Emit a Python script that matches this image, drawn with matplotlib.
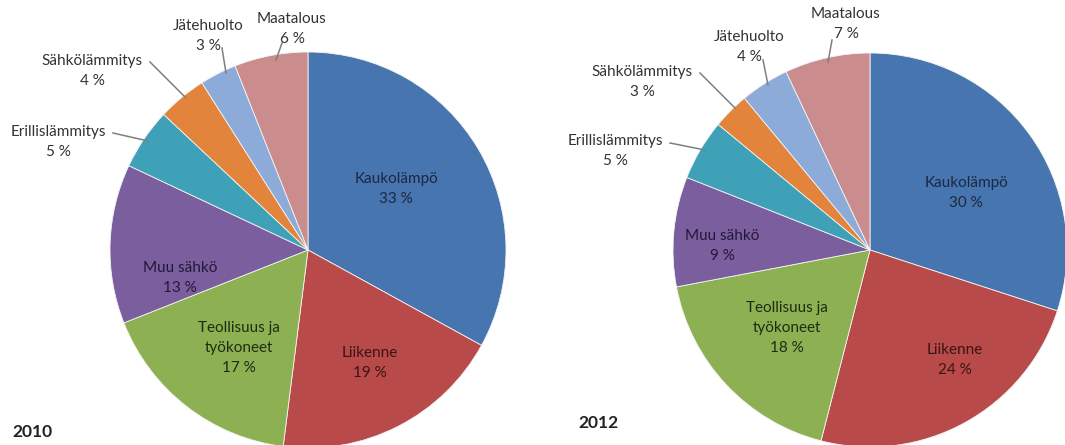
import matplotlib.pyplot as plt

# shares (%) per sector, 2010 and 2012
sectors = ["Kaukolämpö", "Liikenne", "Teollisuus ja\ntyökoneet", "Muu sähkö",
           "Erillislämmitys", "Sähkölämmitys", "Jätehuolto", "Maatalous"]
share_2010 = [33, 19, 17, 13, 5, 4, 3, 6]
share_2012 = [30, 24, 18, 9, 5, 3, 4, 7]
years = ["2010", "2012"]

colors = ["#4775B0", "#B84B49", "#8DB152", "#7A5E9E",
          "#3FA1B8", "#E3843D", "#8DABD9", "#CB8C8E"]
text_colors = ["#1c2740", "#3a1414", "#1f2c10", "#241838",
               "#333333", "#333333", "#333333", "#333333"]

W, H = 1065, 445
plt.rcParams['font.family'] = ['Lato', 'DejaVu Sans']

fig = plt.figure(figsize=(W / 100, H / 100), dpi=100)
ax = fig.add_axes([0, 0, 1, 1])

def Y(y):  # image row -> plot y
    return H - y

# layout: pie centre / radius, label anchor (image px), leader line for outer labels
pies = [
    dict(center=(308, 250), r=198, year_xy=(12, 432),
         labels=[(396, 189), (370, 363), (239, 348), (180, 278),
                 (58, 142), (92, 71), (208, 36), (292, 29)],
         leaders=[None, None, None, None,
                  ((113, 133), (148, 141)), ((150, 62), (186, 98)),
                  ((222, 48), (226, 73)), ((282, 43), (276, 60))]),
    dict(center=(870, 250), r=197, year_xy=(578, 423),
         labels=[(966, 193), (955, 360), (787, 328), (722, 246),
                 (615, 151), (642, 82), (749, 47), (846, 24)],
         leaders=[None, None, None, None,
                  ((670, 143), (705, 150)), ((700, 73), (735, 108)),
                  ((763, 60), (768, 85)), ((832, 40), (828, 62))]),
]

for vals, year, lay in zip([share_2010, share_2012], years, pies):
    cx, cy = lay['center']
    ax.pie(vals, colors=colors, startangle=90, counterclock=False,
           center=(cx, Y(cy)), radius=lay['r'], frame=True,
           wedgeprops=dict(edgecolor='#f4f4f4', linewidth=0.6))
    for i, (name, v) in enumerate(zip(sectors, vals)):
        lx, ly = lay['labels'][i]
        ax.text(lx, Y(ly), f"{name}\n{v} %", ha='center', va='center',
                fontsize=11, color=text_colors[i], linespacing=1.55)
        ld = lay['leaders'][i]
        if ld is not None:
            (x0, y0), (x1, y1) = ld
            ax.plot([x0, x1], [Y(y0), Y(y1)], color='#7f7f7f', lw=1.1)
    ax.text(lay['year_xy'][0], Y(lay['year_xy'][1]), year, ha='left',
            va='center', fontsize=12.5, fontweight='bold', color='#222222')

ax.set_xlim(0, W)
ax.set_ylim(0, H)
ax.set_aspect('equal')
ax.axis('off')
fig.savefig("out.png", dpi=100)
